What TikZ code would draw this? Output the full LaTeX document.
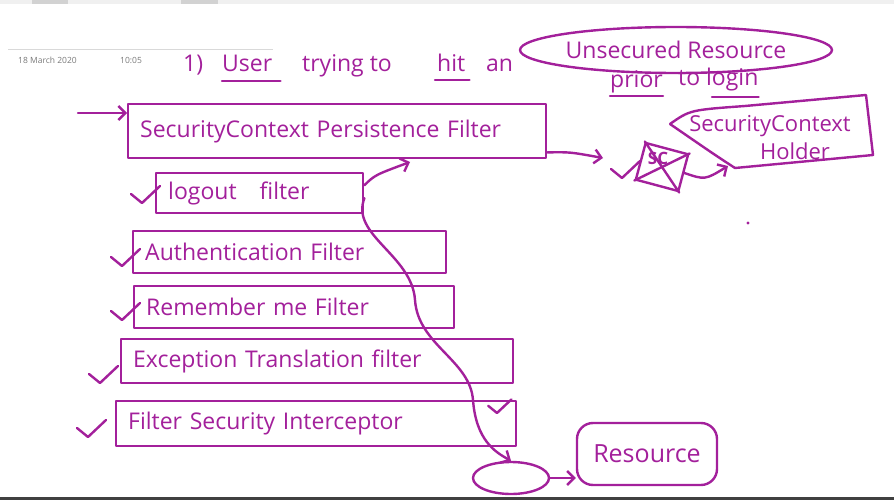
\documentclass[tikz,border=0pt]{standalone}
\usepackage{fontspec}
\setmainfont{Open Sans}
\usetikzlibrary{arrows.meta,shapes.geometric}
\definecolor{mag}{HTML}{A3209B}
\definecolor{dategray}{HTML}{7A7A7A}
\begin{document}
\begin{tikzpicture}[x=1pt,y=-1pt,
  pen/.style={draw=mag,line width=2.4pt,line cap=round,line join=round},
  ink/.style={text=mag,font=\fontsize{23}{26}\selectfont},
  head/.style={text=mag,font=\fontsize{23}{26}\selectfont,inner sep=0pt,anchor=base west},
  fbox/.style={pen,ink,rectangle,anchor=north west,inner xsep=12pt,inner ysep=0pt,align=left},
  tip/.style={-{Straight Barb[length=7pt,width=14pt,line width=2.4pt]}},
  tick/.pic={\draw[pen] (-11,-9) -- (0,0) -- (18,-17);},
  datetext/.style={text=dategray,font=\fontsize{8.5}{10}\selectfont,inner sep=0pt,anchor=west}]
\useasboundingbox (0,0) rectangle (894,500);
\fill[white] (0,0) rectangle (894,500);
% window chrome
\fill[gray!12] (0,0) rectangle (894,4);
\fill[gray!35] (32,0) rectangle (68,4);
\fill[gray!35] (181,0) rectangle (218,4);
\fill[black!75] (0,497) rectangle (894,500);
% page header
\draw[gray!30,line width=0.6pt] (8,49) -- (273,49);
\node[datetext] (date) at (18,60) {18 March 2020};
\node[datetext] (time) at (120,60) {10:05};

% heading
\node[head] (h1) at (183,72) {1)};
\node[head] (huser) at (222,72) {User};
\node[head] (htry) at (302,72) {trying to};
\node[head] (hhit) at (437,72) {hit};
\node[head] (han) at (486,72) {an};
\draw[pen] ([yshift=-9pt]huser.base west) -- ([yshift=-9pt,xshift=8pt]huser.base east);
\draw[pen] ([yshift=-8pt,xshift=-2pt]hhit.base west) -- ([yshift=-8pt,xshift=4pt]hhit.base east);
\node[pen,ellipse,head,anchor=center,minimum width=272pt,minimum height=46pt,inner sep=0pt] (unsec) at (676,50) {Unsecured Resource};
\node[head] (prior) at (610,88) {prior};
\node[head] (tologin) at (678,86) {to login};
\draw[pen] ([yshift=-8pt]prior.base west) -- ([yshift=-8pt]prior.base east);
\draw[pen] ([yshift=-11pt,xshift=34pt]tologin.base west) -- ([yshift=-11pt]tologin.base east);

% filter chain
\node[fbox,minimum width=418pt,minimum height=54pt,text width=394pt] (b1) at (127,103) {SecurityContext Persistence Filter};
\node[fbox,minimum width=207pt,minimum height=40pt,text width=183pt] (lo) at (155,172) {logout\quad filter};
\node[fbox,minimum width=313pt,minimum height=42pt,text width=289pt] (au) at (132,230) {Authentication Filter};
\node[fbox,minimum width=320pt,minimum height=42pt,text width=296pt] (rm) at (133,285) {Remember me Filter};
\node[fbox,minimum width=392pt,minimum height=44pt,text width=368pt] (ex) at (120,338) {Exception Translation filter};
\node[fbox,minimum width=400pt,minimum height=45pt,text width=376pt] (fs) at (115,400) {Filter Security Interceptor};

% ticks
\pic at (142,203) {tick};
\pic at (122,266) {tick};
\pic at (122,320) {tick};
\pic at (100,383) {tick};
\pic at (88,437) {tick};
\pic[scale=0.8] at (497,413) {tick};

% entry arrow
\coordinate (in) at (78,113);
\draw[pen,tip] (in) -- (in -| b1.west);

% end ellipse and resource
\node[pen,ellipse,minimum width=76pt,minimum height=32pt] (ell) at (511,478) {};
\node[pen,ink,rectangle,rounded corners=16pt,minimum width=140pt,minimum height=62pt,font=\fontsize{25}{28}\selectfont] (res) at (647,454) {Resource};
\draw[pen,tip] (ell.east) -- (res.west |- ell.east);

% flow lines from logout filter
\coordinate (up) at (410,162);
\draw[pen,tip] ([yshift=8pt]lo.east) .. controls (375,175) .. (up);
\draw[pen,tip] ([yshift=-5pt]lo.east) .. controls (350,235) and (412,255) .. (415,300)
  .. controls (418,345) and (470,360) .. (473,400) .. controls (476,440) and (495,452) .. (ell.north);

% security context
\node[pen,rectangle,rotate=-15,minimum width=44pt,minimum height=38pt,inner sep=0pt] (sc) at (662,167) {};
\draw[pen] (sc.north west) -- (sc.south east);
\draw[pen] (sc.north east) -- (sc.south west);
\node[ink,font=\fontsize{17}{19}\selectfont\bfseries,inner sep=0pt] (sctxt) at (658,158) {SC};
\pic at (622,178) {tick};
\coordinate (fromb1) at ([yshift=7pt]b1.south east);
\coordinate (tosc) at (603,158);
\draw[pen,tip] (fromb1) .. controls (570,152) .. (tosc);

\node[ink,align=center,inner sep=0pt,font=\fontsize{22}{28}\selectfont] (hold) at (770,138) {SecurityContext\\\hspace*{50pt}Holder};
\draw[pen] (670,124) .. controls (690,110) .. (745,106) -- (866,95) -- (873,155) -- (735,168) .. controls (715,155) .. (670,124);
\coordinate (hl) at (728,166);
\draw[pen,tip] (sc.east) .. controls (705,180) .. (hl);
\fill[mag] (748,223) circle (1.6pt);
\end{tikzpicture}
\end{document}
